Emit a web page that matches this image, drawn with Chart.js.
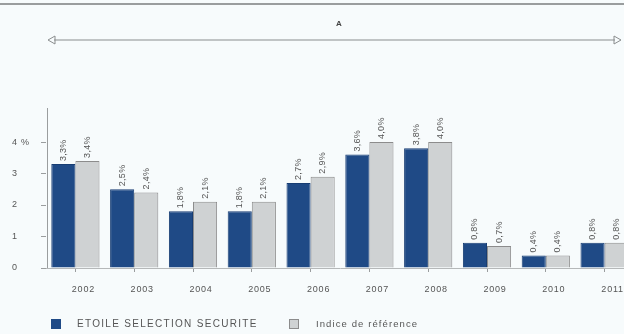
<!DOCTYPE html>
<html>
<head>
<meta charset="utf-8">
<script src="https://cdn.jsdelivr.net/npm/chart.js@4/dist/chart.umd.min.js"></script>
<style>
  html, body { margin: 0; padding: 0; background: #f7fbfc; overflow: hidden; }
  #wrap { width: 634px; height: 334px; position: relative; }
</style>
</head>
<body>
<div id="wrap"><canvas id="c"></canvas></div>
<script>
// Annual performance (%) of the fund and its benchmark
const years = ['2002', '2003', '2004', '2005', '2006', '2007', '2008', '2009', '2010', '2011'];
const fundValues = [3.3, 2.5, 1.8, 1.8, 2.7, 3.6, 3.8, 0.8, 0.4, 0.8];
const indexValues = [3.4, 2.4, 2.1, 2.1, 2.9, 4.0, 4.0, 0.7, 0.4, 0.8];
const yTickLabels = ['0', '1', '2', '3', '4 %'];
const seriesNames = ['ETOILE SELECTION SECURITE', 'Indice de référence'];
const spanLabel = 'A';

const FONT = 'Arial, "Liberation Sans", sans-serif';
const TEXT = '#555';

function fmt(v) {
  return v.toFixed(1).replace('.', ',') + '%';
}

// Slightly spaced lettering for the axis labels
const spacing = {
  id: 'spacing',
  beforeDraw(chart) { chart.ctx.letterSpacing = '0.8px'; }
};

// Rotated value labels above each bar
const valueLabels = {
  id: 'valueLabels',
  afterDatasetsDraw(chart) {
    const ctx = chart.ctx;
    ctx.save();
    ctx.letterSpacing = '0.3px';
    ctx.font = '9px ' + FONT;
    ctx.fillStyle = TEXT;
    ctx.textAlign = 'left';
    ctx.textBaseline = 'middle';
    chart.data.datasets.forEach((ds, di) => {
      const meta = chart.getDatasetMeta(di);
      meta.data.forEach((bar, i) => {
        ctx.save();
        ctx.translate(bar.x, bar.y - 3);
        ctx.rotate(-Math.PI / 2);
        ctx.fillText(fmt(ds.data[i]), 0, 0);
        ctx.restore();
      });
    });
    ctx.restore();
  }
};

// Frame line, span arrow and legend
const decorations = {
  id: 'decorations',
  afterDraw(chart) {
    const ctx = chart.ctx;
    const area = chart.chartArea;
    ctx.save();

    // top rule
    ctx.strokeStyle = '#9a9d9e';
    ctx.lineWidth = 2;
    ctx.beginPath();
    ctx.moveTo(0, 4);
    ctx.lineTo(624, 4);
    ctx.stroke();

    // span arrow
    const y = 40, x0 = 48, x1 = 621;
    ctx.strokeStyle = '#8a8d8e';
    ctx.lineWidth = 1.2;
    ctx.beginPath();
    ctx.moveTo(x0 + 6, y);
    ctx.lineTo(x1 - 6, y);
    ctx.stroke();
    ctx.lineWidth = 1;
    ctx.beginPath();
    ctx.moveTo(x0 + 7, y - 4);
    ctx.lineTo(x0, y);
    ctx.lineTo(x0 + 7, y + 4);
    ctx.closePath();
    ctx.stroke();
    ctx.beginPath();
    ctx.moveTo(x1 - 7, y - 4);
    ctx.lineTo(x1, y);
    ctx.lineTo(x1 - 7, y + 4);
    ctx.closePath();
    ctx.stroke();
    ctx.fillStyle = '#444';
    ctx.letterSpacing = '0px';
    ctx.font = 'bold 8px ' + FONT;
    ctx.textAlign = 'center';
    ctx.textBaseline = 'middle';
    ctx.fillText(spanLabel, 339, 24);

    // legend
    const ly = 324;
    ctx.textAlign = 'left';
    ctx.font = '10px ' + FONT;
    ctx.letterSpacing = '1.3px';
    ctx.fillStyle = '#1f4a86';
    ctx.fillRect(51, ly - 5, 10, 10);
    ctx.fillStyle = TEXT;
    ctx.fillText(seriesNames[0], 77, ly);
    ctx.fillStyle = '#cfd2d3';
    ctx.fillRect(289, ly - 5, 9, 9);
    ctx.strokeStyle = '#8c8c8c';
    ctx.strokeRect(289.5, ly - 4.5, 9, 9);
    ctx.fillStyle = TEXT;
    ctx.font = '9.5px ' + FONT;
    ctx.letterSpacing = '1.1px';
    ctx.fillText(seriesNames[1], 316, ly);

    // y axis line
    ctx.letterSpacing = '0px';
    ctx.strokeStyle = '#9a9d9e';
    ctx.lineWidth = 1;
    ctx.beginPath();
    ctx.moveTo(47.5, area.top);
    ctx.lineTo(47.5, area.bottom);
    ctx.stroke();
    ctx.restore();
  }
};

new Chart(document.getElementById('c'), {
  type: 'bar',
  data: {
    labels: years,
    datasets: [
      {
        label: seriesNames[0],
        data: fundValues,
        backgroundColor: '#1f4a86',
        borderColor: '#173d73',
        borderWidth: 1
      },
      {
        label: seriesNames[1],
        data: indexValues,
        backgroundColor: '#cfd2d3',
        borderColor: '#8c8c8c',
        borderWidth: 1
      }
    ]
  },
  options: {
    responsive: true,
    maintainAspectRatio: false,
    animation: false,
    devicePixelRatio: 1,
    layout: { padding: { top: 108, left: 12, right: 0, bottom: 0 } },
    plugins: { legend: { display: false }, tooltip: { enabled: false } },
    datasets: { bar: { categoryPercentage: 0.82, barPercentage: 1.0 } },
    scales: {
      x: {
        offset: true,
        grid: {
          display: true,
          drawOnChartArea: false,
          offset: false,
          tickLength: 4,
          color: '#9a9d9e'
        },
        border: { color: '#b5b8b9', width: 1 },
        ticks: {
          color: TEXT,
          font: { size: 9, family: FONT },
          padding: 12,
          labelOffset: 8,
          maxRotation: 0,
          autoSkip: false
        },
        afterFit(scale) { scale.height = 66; }
      },
      y: {
        min: 0,
        max: 5.08,
        grid: {
          display: true,
          drawOnChartArea: false,
          tickLength: 5,
          color: '#9a9d9e'
        },
        border: { display: false },
        ticks: {
          stepSize: 1,
          color: TEXT,
          font: { size: 9, family: FONT },
          padding: 6,
          crossAlign: 'far',
          callback(v) { return Number.isInteger(v) && v <= 4 ? yTickLabels[v] : null; }
        },
        afterFit(scale) { scale.width = 34; }
      }
    }
  },
  plugins: [spacing, valueLabels, decorations]
});
</script>
</body>
</html>
